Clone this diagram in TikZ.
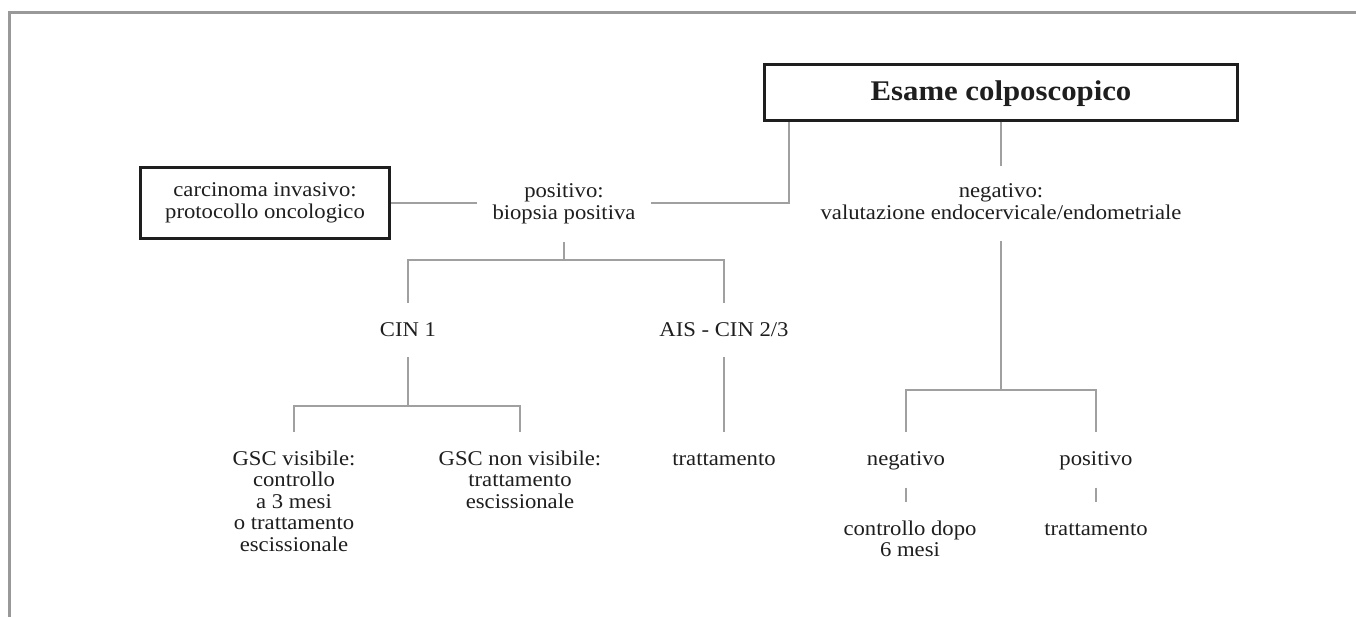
\documentclass[tikz,border=0pt]{standalone}
\usepackage{fontspec}
\setmainfont{Liberation Serif}[FakeStretch=1.08]
\newcommand\mystrut{\rule[-3pt]{0pt}{18pt}}
\definecolor{linegray}{HTML}{A0A0A0}
\definecolor{framegray}{HTML}{999999}
\definecolor{ink}{HTML}{1E1E1E}
\begin{document}
\begin{tikzpicture}[x=1pt,y=-1pt,
  txt/.style={align=center, text=ink, font=\fontsize{21}{21.5}\selectfont,
    inner xsep=0pt, inner ysep=18pt,
    execute at begin node=\mystrut, execute at end node=\mystrut},
  lbl/.style={txt, anchor=base},
  boxed/.style={draw=ink, line width=3pt, align=center, text=ink, inner sep=0pt},
  conn/.style={draw=linegray, line width=2pt},
  framestyle/.style={draw=framegray, line width=3pt, line join=miter}
]
\useasboundingbox (0,0) rectangle (1356,617);
\draw[framestyle] (9.5,617) -- (9.5,13) -- (1356,13);

% nodes (anchor=base is the baseline of the last line)
\node[boxed, font=\bfseries\fontsize{28.5}{30}\selectfont, text height=19pt, text depth=2pt,
      minimum width=473pt, minimum height=56pt] (esame) at (1001,92.5) {Esame colposcopico};
\node[boxed, font=\fontsize{21}{21.5}\selectfont, minimum width=249pt, minimum height=71pt,
      execute at begin node=\mystrut, execute at end node=\mystrut] (carc) at (265,203)
      {carcinoma invasivo:\\protocollo oncologico};
\node[lbl, minimum width=174pt] (pos) at (564,219.5) {positivo:\\biopsia positiva};
\node[lbl] (neg) at (1001,219.5) {negativo:\\valutazione endocervicale/endometriale};
\node[lbl] (cin1) at (408,336) {CIN 1};
\node[lbl] (ais) at (724,336) {AIS - CIN 2/3};
\node[lbl] (gscv) at (294,551) {GSC visibile:\\controllo\\a 3 mesi\\o trattamento\\escissionale};
\node[lbl] (gscn) at (520,508) {GSC non visibile:\\trattamento\\escissionale};
\node[lbl] (tr1) at (724,465) {trattamento};
\node[lbl] (neg2) at (906,465) {negativo};
\node[lbl] (pos2) at (1096,465) {positivo};
\node[lbl] (ctrl) at (910,556.5) {controllo dopo\\6 mesi};
\node[lbl] (tr2) at (1096,535) {trattamento};

% branch points
\coordinate (j1) at (789,203);
\coordinate (b1) at (564,260);
\coordinate (b2) at (408,406);
\coordinate (b3) at (1001,390);

% connectors
\draw[conn] (carc.east) -- (carc.east -| pos.west);
\draw[conn] (pos.east |- carc.east) -| (esame.south -| j1);
\draw[conn] (esame.south) -- (neg.north);
\draw[conn] (pos.south) -- (b1);
\draw[conn] (cin1.north) |- (b1) -| (ais.north);
\draw[conn] (cin1.south) -- (b2);
\draw[conn] (gscv.north) |- (b2) -| (gscn.north);
\draw[conn] (ais.south) -- (tr1.north);
\draw[conn] (neg.south) -- (b3);
\draw[conn] (neg2.north) |- (b3) -| (pos2.north);
\draw[conn] (neg2.south) -- (neg2.south |- ctrl.north);
\draw[conn] (pos2.south) -- (tr2.north);
\end{tikzpicture}
\end{document}
